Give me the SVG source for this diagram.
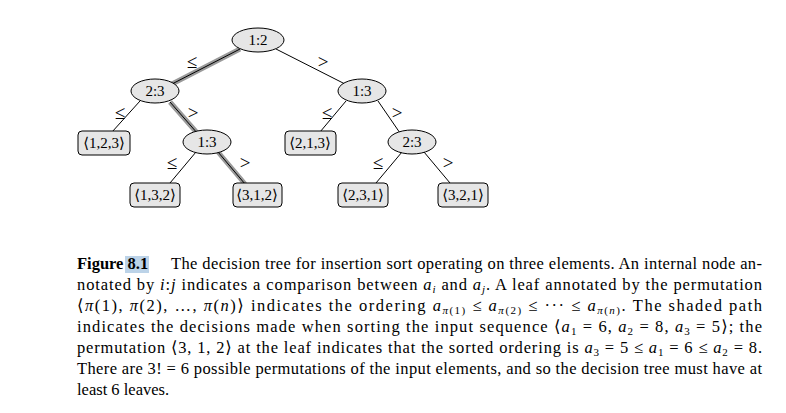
<svg xmlns="http://www.w3.org/2000/svg" width="786" height="413" viewBox="0 0 786 413">
<style>
text{font-family:'Liberation Serif','Times New Roman','DejaVu Serif',serif}
.n{fill:#e6e6e6;stroke:#000;stroke-width:1}
.t{font-size:15px;text-anchor:middle}
.lb{font-size:19px;text-anchor:middle}
.e{stroke:#000;stroke-width:1;fill:none}
.s{stroke:#9a9a9a;stroke-width:5;fill:none}
.c{font-size:16.5px}
</style>
<rect width="786" height="413" fill="#fff"/>
<g id="connectors">
<path class="s" d="M240 49 L172 84 M170 102 L198 134 M218 152 L245 184"/>
<path class="e" d="M240 49 L172 84 M276 49 L345 84 M140 101 L112 132 M170 102 L198 134 M346 101 L320 132 M378 101 L400 133 M196 152 L170 183 M218 152 L245 184 M402 152 L376 183 M424 152 L450 183"/>
<g class="lb">
<text x="192" y="68">≤</text><text x="323" y="68">&gt;</text>
<text x="120" y="119">≤</text><text x="193" y="119">&gt;</text>
<text x="327" y="119">≤</text><text x="397" y="119">&gt;</text>
<text x="172" y="169">≤</text><text x="245" y="169">&gt;</text>
<text x="378" y="169">≤</text><text x="448" y="169">&gt;</text>
</g>
</g>
<g id="n12"><ellipse class="n" cx="258" cy="40" rx="26" ry="12"/><text class="t" x="258" y="45">1:2</text></g>
<g id="n23a"><ellipse class="n" cx="155" cy="91" rx="24" ry="12"/><text class="t" x="155" y="96">2:3</text></g>
<g id="n13b"><ellipse class="n" cx="362" cy="91" rx="24" ry="12"/><text class="t" x="362" y="96">1:3</text></g>
<g id="n13a"><ellipse class="n" cx="207" cy="142" rx="24" ry="12"/><text class="t" x="207" y="147">1:3</text></g>
<g id="n23b"><ellipse class="n" cx="412" cy="142" rx="24" ry="12"/><text class="t" x="412" y="147">2:3</text></g>
<g id="l123"><rect class="n" x="78" y="131" width="52" height="24" rx="4"/><text class="t" x="104" y="148">⟨1,2,3⟩</text></g>
<g id="l213"><rect class="n" x="285" y="131" width="51" height="24" rx="4"/><text class="t" x="310" y="148">⟨2,1,3⟩</text></g>
<g id="l132"><rect class="n" x="130" y="183" width="50" height="24" rx="4"/><text class="t" x="155" y="200">⟨1,3,2⟩</text></g>
<g id="l312"><rect class="n" x="233" y="183" width="49" height="24" rx="4"/><text class="t" x="257" y="200">⟨3,1,2⟩</text></g>
<g id="l231"><rect class="n" x="338" y="183" width="50" height="24" rx="4"/><text class="t" x="363" y="200">⟨2,3,1⟩</text></g>
<g id="l321"><rect class="n" x="438" y="183" width="50" height="24" rx="4"/><text class="t" x="463" y="200">⟨3,2,1⟩</text></g>
<rect x="125" y="256" width="24" height="17" fill="#bcd3e8"/>
<g class="c">
<text x="77" y="269" font-weight="bold">Figure 8.1</text>
<text x="171" y="269" textLength="591" lengthAdjust="spacing">The decision tree for insertion sort operating on three elements. An internal node an-</text>
<text x="77" y="290" textLength="685" lengthAdjust="spacing">notated by <tspan font-style="italic">i</tspan>:<tspan font-style="italic">j</tspan> indicates a comparison between <tspan font-style="italic">a<tspan font-size="11" dy="3">i</tspan></tspan><tspan dy="-3"> and </tspan><tspan font-style="italic">a<tspan font-size="11" dy="3">j</tspan></tspan><tspan dy="-3">.  A leaf annotated by the permutation</tspan></text>
<text x="77" y="311" textLength="685" lengthAdjust="spacing">⟨<tspan font-style="italic">π</tspan>(1), <tspan font-style="italic">π</tspan>(2), …, <tspan font-style="italic">π</tspan>(<tspan font-style="italic">n</tspan>)⟩ indicates the ordering <tspan font-style="italic">a</tspan><tspan font-size="11" dy="3"><tspan font-style="italic">π</tspan>(1)</tspan><tspan dy="-3"> ≤ </tspan><tspan font-style="italic">a</tspan><tspan font-size="11" dy="3"><tspan font-style="italic">π</tspan>(2)</tspan><tspan dy="-3"> ≤ ··· ≤ </tspan><tspan font-style="italic">a</tspan><tspan font-size="11" dy="3"><tspan font-style="italic">π</tspan>(<tspan font-style="italic">n</tspan>)</tspan><tspan dy="-3">.  The shaded path</tspan></text>
<text x="77" y="332" textLength="685" lengthAdjust="spacing">indicates the decisions made when sorting the input sequence ⟨<tspan font-style="italic">a</tspan><tspan font-size="11" dy="3">1</tspan><tspan dy="-3"> = 6, </tspan><tspan font-style="italic">a</tspan><tspan font-size="11" dy="3">2</tspan><tspan dy="-3"> = 8, </tspan><tspan font-style="italic">a</tspan><tspan font-size="11" dy="3">3</tspan><tspan dy="-3"> = 5⟩; the</tspan></text>
<text x="77" y="353" textLength="685" lengthAdjust="spacing">permutation ⟨3, 1, 2⟩ at the leaf indicates that the sorted ordering is <tspan font-style="italic">a</tspan><tspan font-size="11" dy="3">3</tspan><tspan dy="-3"> = 5 ≤ </tspan><tspan font-style="italic">a</tspan><tspan font-size="11" dy="3">1</tspan><tspan dy="-3"> = 6 ≤ </tspan><tspan font-style="italic">a</tspan><tspan font-size="11" dy="3">2</tspan><tspan dy="-3"> = 8.</tspan></text>
<text x="77" y="374" textLength="685" lengthAdjust="spacing">There are 3! = 6 possible permutations of the input elements, and so the decision tree must have at</text>
<text x="77" y="395">least 6 leaves.</text>
</g>
</svg>
